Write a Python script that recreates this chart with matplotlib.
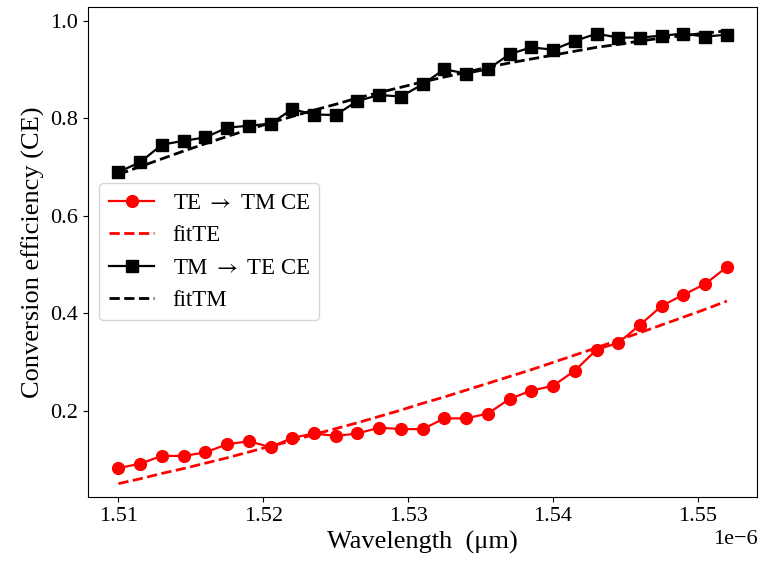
import numpy as np
import matplotlib
matplotlib.use('Agg')
from matplotlib import pyplot as plt

plt.rcParams['font.family'] = ['Liberation Serif', 'DejaVu Serif']
plt.rcParams['mathtext.fontset'] = 'stix'

# wavelength grid (m), 29 points, 1.5 nm step
wavelength = np.arange(29) * 1.5e-9 + 1.510e-6

te_ce = [0.082, 0.091, 0.107, 0.107, 0.114, 0.131, 0.137, 0.125, 0.144, 0.153,
         0.148, 0.153, 0.165, 0.162, 0.162, 0.184, 0.184, 0.194, 0.224, 0.241,
         0.251, 0.282, 0.325, 0.339, 0.376, 0.415, 0.438, 0.460, 0.495]
fit_te = [0.050, 0.060, 0.071, 0.081, 0.092, 0.103, 0.115, 0.127, 0.138, 0.151,
          0.163, 0.175, 0.188, 0.201, 0.215, 0.228, 0.242, 0.256, 0.270, 0.284,
          0.299, 0.314, 0.329, 0.345, 0.360, 0.376, 0.392, 0.408, 0.425]
tm_ce = [0.690, 0.710, 0.746, 0.754, 0.761, 0.781, 0.785, 0.789, 0.819, 0.808,
         0.807, 0.836, 0.848, 0.845, 0.870, 0.901, 0.892, 0.901, 0.932, 0.946,
         0.941, 0.959, 0.974, 0.966, 0.966, 0.970, 0.974, 0.968, 0.972]
fit_tm = [0.685, 0.701, 0.717, 0.733, 0.748, 0.763, 0.777, 0.791, 0.804, 0.817,
          0.829, 0.842, 0.853, 0.864, 0.875, 0.885, 0.895, 0.905, 0.914, 0.922,
          0.930, 0.938, 0.946, 0.952, 0.959, 0.965, 0.970, 0.975, 0.980]

fig = plt.figure(figsize=(7.65, 5.75), dpi=100)
ax = fig.add_axes([0.115, 0.136, 0.875, 0.852])

ax.plot(wavelength, te_ce, 'r-o', lw=1.6, ms=8.5, label=r'TE $\rightarrow$ TM CE')
ax.plot(wavelength, fit_te, 'r--', lw=2, label='fitTE')
ax.plot(wavelength, tm_ce, 'k-s', lw=1.6, ms=8.5, label=r'TM $\rightarrow$ TE CE')
ax.plot(wavelength, fit_tm, 'k--', lw=2, label='fitTM')

ax.set_ylim(0.023, 1.029)
ax.set_xticks([1.51e-6, 1.52e-6, 1.53e-6, 1.54e-6, 1.55e-6])
ax.tick_params(labelsize=16)
ax.xaxis.get_offset_text().set_fontsize(16)
ax.set_xlabel('Wavelength  (μm)', fontsize=19)
ax.set_ylabel('Conversion efficiency (CE)', fontsize=19)
ax.legend(loc='center left', fontsize=16.5)

fig.savefig('out.png')
